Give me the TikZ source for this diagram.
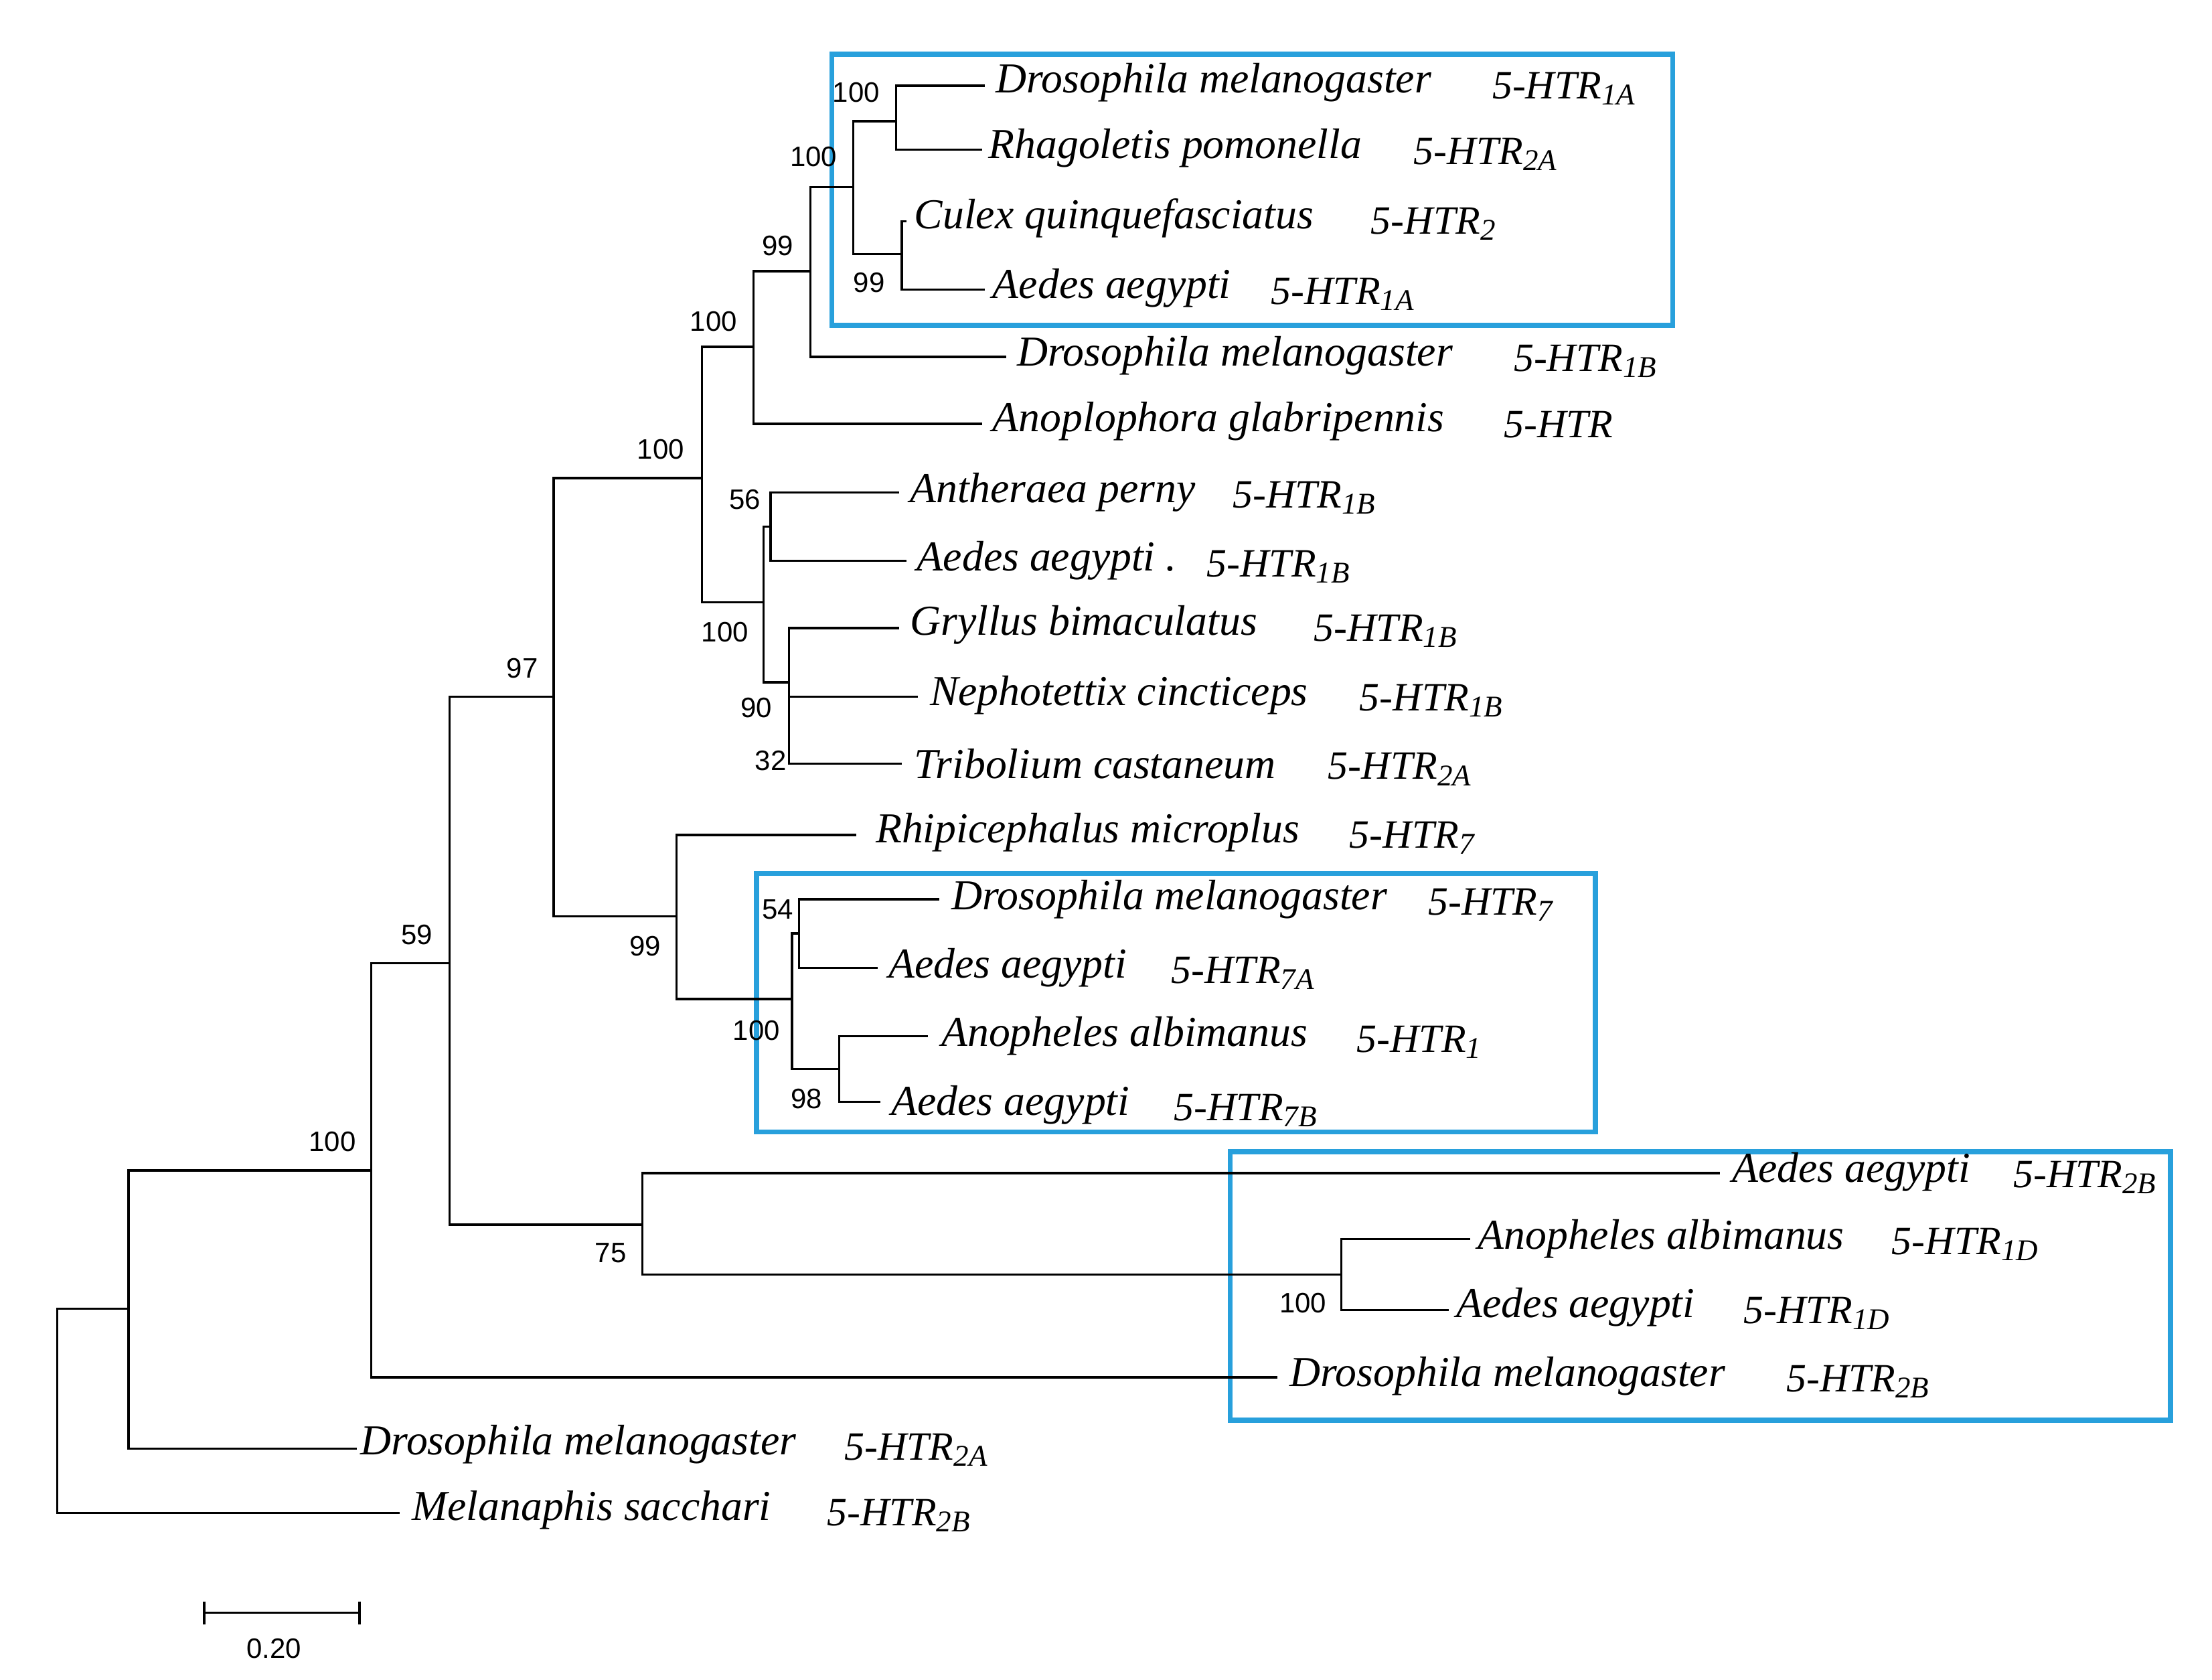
\documentclass[tikz,border=0pt]{standalone}
\usepackage{fontspec}
\setmainfont{Liberation Serif}
\newfontfamily\bsfont{Liberation Sans}
\begin{document}
\begin{tikzpicture}[x=0.01cm,y=-0.01cm,
  br/.style={line width=0.45pt,black},
  bx/.style={line width=1pt,draw={rgb,255:red,40;green,160;blue,220}},
  sp/.style={anchor=west,inner sep=0pt,font=\fontsize{8.5}{9}\selectfont\itshape},
  gn/.style={anchor=west,inner sep=0pt,font=\fontsize{8}{9}\selectfont\itshape},
  bs/.style={inner sep=0pt,font=\bsfont\fontsize{5.6}{6}\selectfont}]
\useasboundingbox (0,0) rectangle (1550,1177);
% boxes
\draw[bx] (583,38) rectangle (1172,228);
\draw[bx] (530,612) rectangle (1118,793);
\draw[bx] (862,807) rectangle (1521,995);
% internal nodes (named coordinates)
\coordinate (root) at (40,960);
\coordinate (A) at (90,917);
\coordinate (B) at (260,820);
\coordinate (C) at (315,675);
\coordinate (D) at (450,858);
\coordinate (E) at (940,893);
\coordinate (F) at (388,488);
\coordinate (G) at (492,335);
\coordinate (H) at (528,243);
\coordinate (I) at (568,190);
\coordinate (J) at (598,131);
\coordinate (K) at (628,85);
\coordinate (L) at (632,178);
\coordinate (M) at (535,422);
\coordinate (N) at (540,369);
\coordinate (O) at (553,478);
\coordinate (P) at (474,642);
\coordinate (Q) at (555,700);
\coordinate (R) at (560,654);
\coordinate (S) at (588,749);
% tips
\foreach \n/\x/\y in {t1/690/60,t2/688/105,t3/635/155,t4/690/203,t5/705/250,t6/688/297,
 t7/630/345,t8/635/393,t9/630/440,t10/643/488,t11/632/535,t12/600/585,t13/658/630,
 t14/615/678,t15/650/726,t16/617/772,t17/1205/822,t18/1030/868,t19/1015/918,t20/895/965,
 t21/250/1015,t22/280/1060}
  \coordinate (\n) at (\x,\y);
\foreach \p/\c in {root/A,root/t22,A/B,A/t21,B/C,B/t20,C/F,C/D,D/t17,D/E,E/t18,E/t19,
 F/G,F/P,G/H,G/M,H/I,H/t6,I/J,I/t5,J/K,J/L,K/t1,K/t2,L/t3,L/t4,M/N,M/O,N/t7,N/t8,
 O/t9,O/t10,O/t11,P/t12,P/Q,Q/R,Q/S,R/t13,R/t14,S/t15,S/t16}
  \draw[br] (\p) |- (\c);
% bootstrap values
\foreach \x/\y/\t in {233/800/100,292/655/59,428/878/75,913/913/100,366/468/97,463/315/100,
 500/225/100,545/172/99,570/110/100,600/65/100,609/198/99,522/350/56,508/443/100,530/496/90,
 540/533/32,452/663/99,530/722/100,545/637/54,565/770/98}
  \node[bs] at (\x,\y) {\t};
% species labels
\foreach \x/\y/\s/\gx/\g in {
 697/58/Drosophila melanogaster/1045/1A,
 692/104/Rhagoletis pomonella/990/2A,
 640/153/Culex quinquefasciatus/960/2,
 695/202/Aedes aegypti/890/1A,
 712/249/Drosophila melanogaster/1060/1B,
 695/295/Anoplophora glabripennis/1053/,
 637/345/Antheraea perny/863/1B,
 642/393/Aedes aegypti ./845/1B,
 637/438/Gryllus bimaculatus/920/1B,
 651/487/Nephotettix cincticeps/952/1B,
 640/535/Tribolium castaneum/930/2A,
 613/583/Rhipicephalus microplus/945/7,
 666/630/Drosophila melanogaster/1000/7,
 622/678/Aedes aegypti/820/7A,
 659/726/Anopheles albimanus/950/1,
 624/774/Aedes aegypti/822/7B,
 1213/821/Aedes aegypti/1410/2B,
 1035/868/Anopheles albimanus/1325/1D,
 1020/916/Aedes aegypti/1221/1D,
 903/964/Drosophila melanogaster/1251/2B,
 252/1012/Drosophila melanogaster/591/2A,
 288/1058/Melanaphis sacchari/579/2B}
 {\node[sp] at (\x,\y) {\s};
  \node[gn] at (\gx,\y+4) {5-HTR\textsubscript{\g}};}
% scale bar
\coordinate (sb1) at (143,1130); \coordinate (sb2) at (252,1130);
\draw[br] (sb1) -- (sb2);
\draw[br] (143,1122) -- (143,1138);
\draw[br] (252,1122) -- (252,1138);
\node[bs] at (192,1155) {0.20};
\end{tikzpicture}
\end{document}
